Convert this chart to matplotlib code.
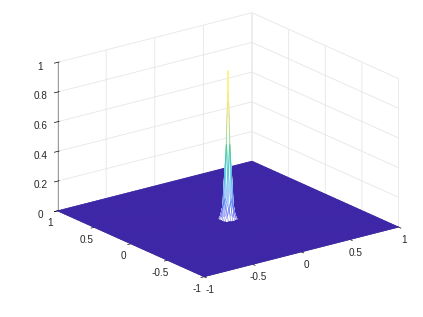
import numpy as np
import matplotlib
matplotlib.use("Agg")
import matplotlib.pyplot as plt
from matplotlib.colors import LinearSegmentedColormap
from mpl_toolkits.mplot3d.art3d import Line3DCollection

plt.rcParams["font.family"] = ["Liberation Sans", "DejaVu Sans"]
plt.rcParams["axes.unicode_minus"] = False

# mesh spacing
grid_x = np.linspace(-1, 1, 101)
grid_y = np.linspace(-1, 1, 101)

# heights around the centre of the mesh, everything else is flat at 0
peak_z = [
    [0.00, 0.00, 0.00, 0.00, 0.00, 0.00, 0.00],
    [0.00, 0.04, 0.09, 0.13, 0.09, 0.04, 0.00],
    [0.00, 0.09, 0.32, 0.50, 0.32, 0.09, 0.00],
    [0.00, 0.13, 0.50, 1.00, 0.50, 0.13, 0.00],
    [0.00, 0.09, 0.32, 0.50, 0.32, 0.09, 0.00],
    [0.00, 0.04, 0.09, 0.13, 0.09, 0.04, 0.00],
    [0.00, 0.00, 0.00, 0.00, 0.00, 0.00, 0.00],
]

xy_ticks = [-1, -0.5, 0, 0.5, 1]
xy_labels = ["-1", "-0.5", "0", "0.5", "1"]
z_ticks = [0, 0.2, 0.4, 0.6, 0.8, 1]
z_labels = ["0", "0.2", "0.4", "0.6", "0.8", "1"]

parula = LinearSegmentedColormap.from_list("parula", [
    (0.2422, 0.1504, 0.6603), (0.2810, 0.3228, 0.9579), (0.1786, 0.5289, 0.9682),
    (0.0689, 0.6948, 0.8394), (0.2161, 0.7843, 0.5923), (0.6000, 0.8000, 0.3500),
    (0.9000, 0.8200, 0.2500), (0.9769, 0.9500, 0.3000),
])

Z = np.zeros((len(grid_y), len(grid_x)))
peak = np.array(peak_z)
c = len(grid_x) // 2
h = peak.shape[0] // 2
Z[c - h:c + h + 1, c - h:c + h + 1] = peak
X, Y = np.meshgrid(grid_x, grid_y)

fig = plt.figure(figsize=(4.23, 3.17), dpi=100)
ax = fig.add_axes([0.029, 0.03, 1.0, 1.0], projection="3d", proj_type="ortho")
ax.computed_zorder = False
ax.view_init(elev=19.8, azim=-127)
ax.set_box_aspect((1, 1, 0.648), zoom=1.16)

surf = ax.plot_surface(X, Y, Z, rcount=101, ccount=101, color="white", shade=False, zorder=2)
cell_z = np.maximum.reduce([Z[:-1, :-1], Z[1:, :-1], Z[:-1, 1:], Z[1:, 1:]])
surf.set_facecolors(np.where(cell_z.ravel()[:, None] > 0, [1.0, 1.0, 1.0, 1.0], [0.27, 0.21, 0.65, 1.0]))
surf.set_edgecolors(np.where(cell_z.ravel()[:, None] > 0, [1.0, 1.0, 1.0, 1.0], parula(0.0)))
surf.set_linewidth(0.5)
surf.set_clip_on(False)

# mesh edges on the spike, cut up so the colour follows the height
segs, seg_z = [], []
lo, hi = c - h, c + h
for i in range(lo, hi + 1):
    for j in range(lo, hi + 1):
        for i2, j2 in ((i + 1, j), (i, j + 1)):
            if i2 > hi or j2 > hi or max(Z[i, j], Z[i2, j2]) == 0:
                continue
            for t0, t1 in zip(np.linspace(0, 1, 8)[:-1], np.linspace(0, 1, 8)[1:]):
                a = [X[i, j] + t0 * (X[i2, j2] - X[i, j]), Y[i, j] + t0 * (Y[i2, j2] - Y[i, j]),
                     Z[i, j] + t0 * (Z[i2, j2] - Z[i, j])]
                b = [X[i, j] + t1 * (X[i2, j2] - X[i, j]), Y[i, j] + t1 * (Y[i2, j2] - Y[i, j]),
                     Z[i, j] + t1 * (Z[i2, j2] - Z[i, j])]
                segs.append([a, b])
                seg_z.append((a[2] + b[2]) / 2)
seg_colors = parula(np.array(seg_z) + 0.12)
seg_colors[:, 3] = 0.8
spike = Line3DCollection(segs, colors=seg_colors, linewidths=0.4, zorder=3)
ax.add_collection3d(spike)
spike.set_clip_on(False)

ax.set_xlim(-1, 1, view_margin=0)
ax.set_ylim(-1, 1, view_margin=0)
ax.set_zlim(0, 1, view_margin=0)
ax.set_xticks(xy_ticks, xy_labels)
ax.set_yticks(xy_ticks, xy_labels)
ax.set_zticks(z_ticks, z_labels)

for axis, pad in ((ax.xaxis, -3.5), (ax.yaxis, -3.5), (ax.zaxis, -2)):
    axis.set_pane_color((1, 1, 1, 0))
    axis.pane.set_edgecolor((1, 1, 1, 0))
    axis.line.set_color("#8a8a8a")
    axis.line.set_linewidth(0.6)
    axis._axinfo["grid"]["color"] = "#e6e6e6"
    axis._axinfo["grid"]["linewidth"] = 0.6
    axis._axinfo["tick"]["color"] = "#8a8a8a"
    axis._axinfo["tick"]["linewidth"] = {True: 0.5, False: 0.5}
    axis.set_tick_params(labelsize=7.2, labelcolor="#262626", pad=pad)

fig.savefig("out.png", dpi=100)
